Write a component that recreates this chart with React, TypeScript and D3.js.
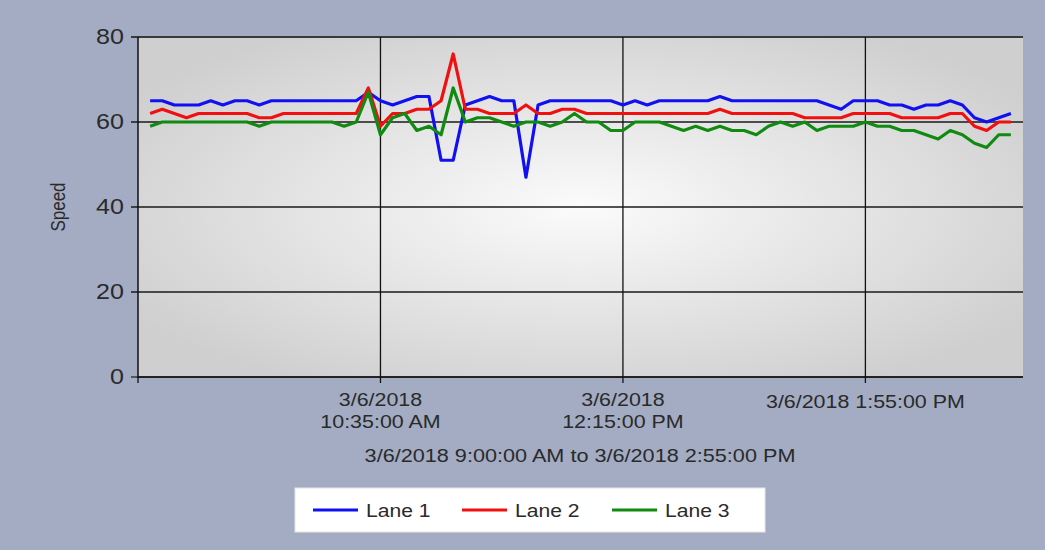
import React from 'react';
import * as d3 from 'd3';

// ---- data ----
const startTime = new Date(2018, 2, 6, 9, 0, 0);
const intervalMinutes = 5;
const lane1 = [65, 65, 64, 64, 64, 65, 64, 65, 65, 64, 65, 65, 65, 65, 65, 65, 65, 65, 67, 65, 64, 65, 66, 66, 51, 51, 64, 65, 66, 65, 65, 47, 64, 65, 65, 65, 65, 65, 65, 64, 65, 64, 65, 65, 65, 65, 65, 66, 65, 65, 65, 65, 65, 65, 65, 65, 64, 63, 65, 65, 65, 64, 64, 63, 64, 64, 65, 64, 61, 60, 61, 62];
const lane2 = [62, 63, 62, 61, 62, 62, 62, 62, 62, 61, 61, 62, 62, 62, 62, 62, 62, 62, 68, 59, 62, 62, 63, 63, 65, 76, 63, 63, 62, 62, 62, 64, 62, 62, 63, 63, 62, 62, 62, 62, 62, 62, 62, 62, 62, 62, 62, 63, 62, 62, 62, 62, 62, 62, 61, 61, 61, 61, 62, 62, 62, 62, 61, 61, 61, 61, 62, 62, 59, 58, 60, 60];
const lane3 = [59, 60, 60, 60, 60, 60, 60, 60, 60, 59, 60, 60, 60, 60, 60, 60, 59, 60, 67, 57, 61, 62, 58, 59, 57, 68, 60, 61, 61, 60, 59, 60, 60, 59, 60, 62, 60, 60, 58, 58, 60, 60, 60, 59, 58, 59, 58, 59, 58, 58, 57, 59, 60, 59, 60, 58, 59, 59, 59, 60, 59, 59, 58, 58, 57, 56, 58, 57, 55, 54, 57, 57];
const seriesNames = ['Lane 1', 'Lane 2', 'Lane 3'];
const seriesColors = ['#1010f0', '#f01010', '#108a10'];
const yTicks = [0, 20, 40, 60, 80];
const xTickTimes = [new Date(2018, 2, 6, 10, 35), new Date(2018, 2, 6, 12, 15), new Date(2018, 2, 6, 13, 55)];
const xTickLabels = [['3/6/2018', '10:35:00 AM'], ['3/6/2018', '12:15:00 PM'], ['3/6/2018 1:55:00 PM']];
const xAxisTitle = '3/6/2018 9:00:00 AM to 3/6/2018 2:55:00 PM';
const yAxisTitle = 'Speed';
const xDomain = [new Date(2018, 2, 6, 8, 55), new Date(2018, 2, 6, 15, 0)];

const W = 1045;
const H = 550;
const FONT = '"Liberation Sans", Arial, sans-serif';
const SX = 1.14;

function T({ x, y, size, anchor = 'middle', children, fill = '#2a2a2a' }: any) {
  return (
    <text
      transform={`translate(${x},${y}) scale(${SX},1)`}
      textAnchor={anchor}
      dominantBaseline="central"
      fontFamily={FONT}
      fontSize={size}
      fill={fill}
    >
      {children}
    </text>
  );
}

export default function App() {
  const left = 138, right = 1023, top = 37, bottom = 377;
  const x = d3.scaleTime().domain(xDomain).range([left, right]);
  const y = d3.scaleLinear().domain([0, 80]).range([bottom, top]);
  const times = lane1.map((_, i) => new Date(startTime.getTime() + i * intervalMinutes * 60000));
  const line = d3.line<number>().x((_, i) => x(times[i])).y((d) => y(d));
  const series = [lane1, lane2, lane3];

  const legendX0 = 295, legendY0 = 488, legendW = 470, legendH = 44;
  const legendItemX = [313, 462, 612];

  return (
    <svg width={W} height={H} style={{ position: 'absolute', left: 0, top: 0 }}>
      <defs>
        <radialGradient id="plotBg" cx="50%" cy="50%" r="60%">
          <stop offset="0%" stopColor="#fbfbfb" />
          <stop offset="100%" stopColor="#cfcfcf" />
        </radialGradient>
      </defs>
      <rect x={0} y={0} width={W} height={H} fill="#a3acc2" />
      <rect x={left} y={top} width={right - left} height={bottom - top} fill="url(#plotBg)" />
      {/* horizontal gridlines */}
      {yTicks.map((t) => (
        <g key={'y' + t}>
          <line x1={left - 7} x2={right} y1={y(t)} y2={y(t)} stroke={t === 80 || t === 0 ? '#3a3a3a' : '#1a1a1a'} strokeWidth={t === 80 ? 2 : 1.3} />
          <T x={124} y={y(t)} size={22} anchor="end">{t}</T>
        </g>
      ))}
      {/* vertical gridlines */}
      {xTickTimes.map((t, i) => (
        <g key={'x' + i}>
          <line x1={x(t)} x2={x(t)} y1={top} y2={bottom + 6} stroke="#111" strokeWidth={1.3} />
          {xTickLabels[i].length === 2 ? (
            <>
              <T x={x(t)} y={399} size={18.8}>{xTickLabels[i][0]}</T>
              <T x={x(t)} y={421} size={18.8}>{xTickLabels[i][1]}</T>
            </>
          ) : (
            <T x={x(t)} y={401} size={18.8}>{xTickLabels[i][0]}</T>
          )}
        </g>
      ))}
      {/* axes */}
      <line x1={left} x2={left} y1={top} y2={bottom + 1} stroke="#111" strokeWidth={1.5} />
      <line x1={left} x2={right} y1={bottom} y2={bottom} stroke="#111" strokeWidth={1.5} />
      <line x1={left} x2={left} y1={bottom} y2={bottom + 6} stroke="#111" strokeWidth={1.3} />
      {/* series */}
      {series.map((s, i) => (
        <path key={i} d={line(s) || ''} fill="none" stroke={seriesColors[i]} strokeWidth={3.2} strokeLinejoin="round" />
      ))}
      {/* titles */}
      <T x={580} y={455} size={19}>{xAxisTitle}</T>
      <text
        transform={`translate(59,207) rotate(-90) scale(1,1.14)`}
        textAnchor="middle"
        dominantBaseline="central"
        fontFamily={FONT}
        fontSize={17}
        fill="#2a2a2a"
      >
        {yAxisTitle}
      </text>
      {/* legend */}
      <rect x={legendX0} y={legendY0} width={legendW} height={legendH} fill="#ffffff" stroke="#e6e6e6" />
      {seriesNames.map((n, i) => (
        <g key={n}>
          <line x1={legendItemX[i]} x2={legendItemX[i] + 45} y1={510} y2={510} stroke={seriesColors[i]} strokeWidth={3.2} />
          <T x={legendItemX[i] + 53} y={510} size={18.5} anchor="start">{n}</T>
        </g>
      ))}
    </svg>
  );
}
